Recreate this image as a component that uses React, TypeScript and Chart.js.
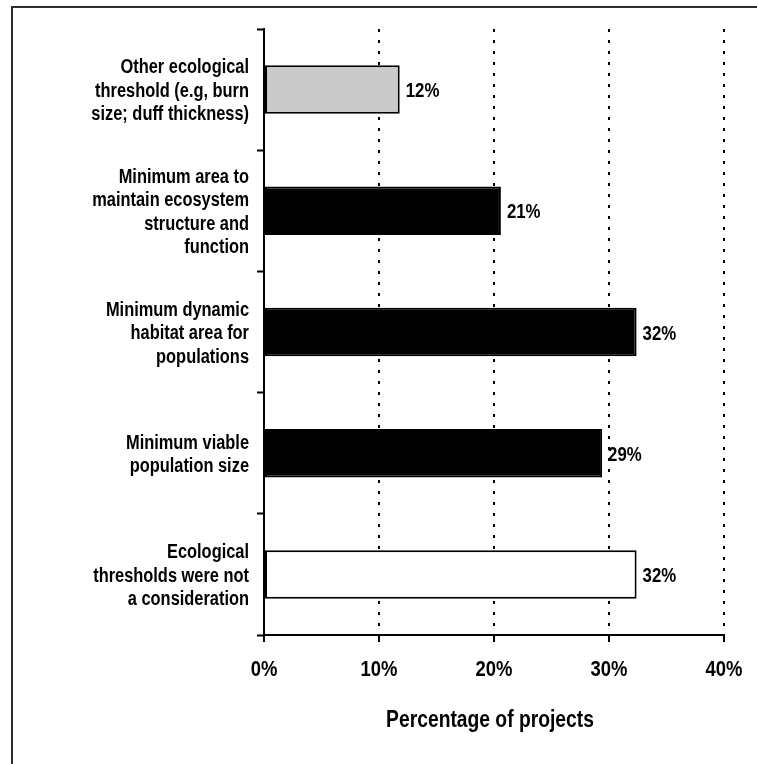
import { useEffect, useRef } from "react";
import { Chart, registerables } from "chart.js";

Chart.register(...registerables);

// Categories, top to bottom (multi-line labels)
const categories: string[][] = [
  ["Other ecological", "threshold (e.g, burn", "size; duff thickness)"],
  ["Minimum area to", "maintain ecosystem", "structure and", "function"],
  ["Minimum dynamic", "habitat area for", "populations"],
  ["Minimum viable", "population size"],
  ["Ecological", "thresholds were not", "a consideration"],
];

// Share of projects (%)
const percentages: number[] = [11.8, 20.6, 32.4, 29.4, 32.4];

// Bar fills per category
const barFills: string[] = ["#cacaca", "#000000", "#000000", "#000000", "#ffffff"];

const xTickValues: number[] = [0, 10, 20, 30, 40];
const xAxisTitle = "Percentage of projects";

const FONT = "'Liberation Sans', Arial, sans-serif";
// Horizontal squeeze that gives the bold sans a narrow (condensed) look
const NARROW = 0.82;

const W = 757;
const H = 764;

function narrowText(
  ctx: CanvasRenderingContext2D,
  text: string,
  x: number,
  y: number,
  size: number,
  align: CanvasTextAlign
) {
  ctx.save();
  ctx.translate(x, y);
  ctx.scale(NARROW, 1);
  ctx.font = `bold ${size}px ${FONT}`;
  ctx.fillStyle = "#000";
  ctx.textAlign = align;
  ctx.textBaseline = "alphabetic";
  ctx.fillText(text, 0, 0);
  ctx.restore();
}

// Draws category labels, tick labels, axis title and bar value labels in a condensed bold face
const condensedLabels = {
  id: "condensedLabels",
  afterDraw(chart: any) {
    const ctx: CanvasRenderingContext2D = chart.ctx;
    const xScale = chart.scales.x;
    const yScale = chart.scales.y;
    const area = chart.chartArea;

    // category labels (right-aligned, left of the axis)
    const catSize = 20;
    const catLine = 23.6;
    const catRight = yScale.right - 15;
    categories.forEach((lines, i) => {
      const mid = yScale.getPixelForValue(i);
      const n = lines.length;
      lines.forEach((line, k) => {
        const baseline = mid + (k - (n - 1) / 2) * catLine + catSize * 0.36;
        narrowText(ctx, line, catRight, baseline, catSize, "right");
      });
    });

    // x tick labels
    xTickValues.forEach((v) => {
      narrowText(ctx, `${v}%`, xScale.getPixelForValue(v), area.bottom + 41, 22.5, "center");
    });

    // x axis title
    narrowText(ctx, xAxisTitle, (area.left + area.right) / 2 - 4, area.bottom + 92, 23.5, "center");

    // value labels at bar ends
    const meta = chart.getDatasetMeta(0);
    const data = chart.data.datasets[0].data as number[];
    meta.data.forEach((bar: any, i: number) => {
      narrowText(ctx, `${Math.round(data[i])}%`, bar.x + 6, bar.y + 7.5, 20.5, "left");
    });
  },
};

export default function App() {
  const canvasRef = useRef<HTMLCanvasElement | null>(null);

  useEffect(() => {
    const canvas = canvasRef.current;
    if (!canvas) return;
    const chart = new Chart(canvas, {
      type: "bar",
      data: {
        labels: categories.map((c) => c.join(" ")),
        datasets: [
          {
            data: percentages,
            backgroundColor: barFills,
            borderColor: "#000",
            borderWidth: 2,
            borderSkipped: false,
            barPercentage: 0.4,
            categoryPercentage: 1,
          },
        ],
      },
      options: {
        indexAxis: "y",
        animation: false,
        responsive: false,
        maintainAspectRatio: false,
        layout: { padding: { top: 29, right: 33, left: 0, bottom: 0 } },
        plugins: {
          legend: { display: false },
          tooltip: { enabled: false },
        },
        scales: {
          x: {
            type: "linear",
            min: 0,
            max: 40,
            afterBuildTicks: (scale: any) => {
              scale.ticks = xTickValues.map((v) => ({ value: v }));
            },
            afterFit: (scale: any) => {
              scale.height = H - 635;
              scale.paddingLeft = 0;
              scale.paddingRight = 0;
              scale.paddingTop = 0;
              scale.paddingBottom = 0;
            },
            ticks: { display: false },
            grid: {
              color: (c: any) => (c.tick && c.tick.value === 0 ? "rgba(0,0,0,0)" : "#000"),
              lineWidth: 2,
              drawTicks: true,
              tickLength: 7,
              tickColor: "#000",
              tickWidth: 2,
              tickBorderDash: [],
            },
            border: { display: true, color: "#000", width: 2, dash: [3, 8] },
            title: { display: false },
          },
          y: {
            type: "category",
            afterFit: (scale: any) => {
              scale.width = 264;
              scale.paddingLeft = 0;
              scale.paddingRight = 0;
              scale.paddingTop = 0;
              scale.paddingBottom = 0;
            },
            ticks: { display: false, autoSkip: false },
            grid: {
              offset: true,
              drawOnChartArea: false,
              drawTicks: true,
              tickLength: 7,
              tickColor: "#000",
              tickWidth: 2,
            },
            border: { display: true, color: "#000", width: 2 },
          },
        },
      },
      plugins: [condensedLabels],
    } as any);
    return () => chart.destroy();
  }, []);

  return (
    <div
      style={{
        position: "absolute",
        left: 0,
        top: 0,
        width: W,
        height: H,
        overflow: "hidden",
        background: "#fff",
      }}
    >
      <div
        style={{
          position: "absolute",
          left: 11,
          top: 6,
          width: W + 20,
          height: H + 20,
          borderLeft: "2px solid #2e2e2e",
          borderTop: "2px solid #2e2e2e",
        }}
      />
      <canvas
        ref={canvasRef}
        width={W}
        height={H}
        style={{ position: "absolute", left: 0, top: 0, width: W, height: H }}
      />
    </div>
  );
}
